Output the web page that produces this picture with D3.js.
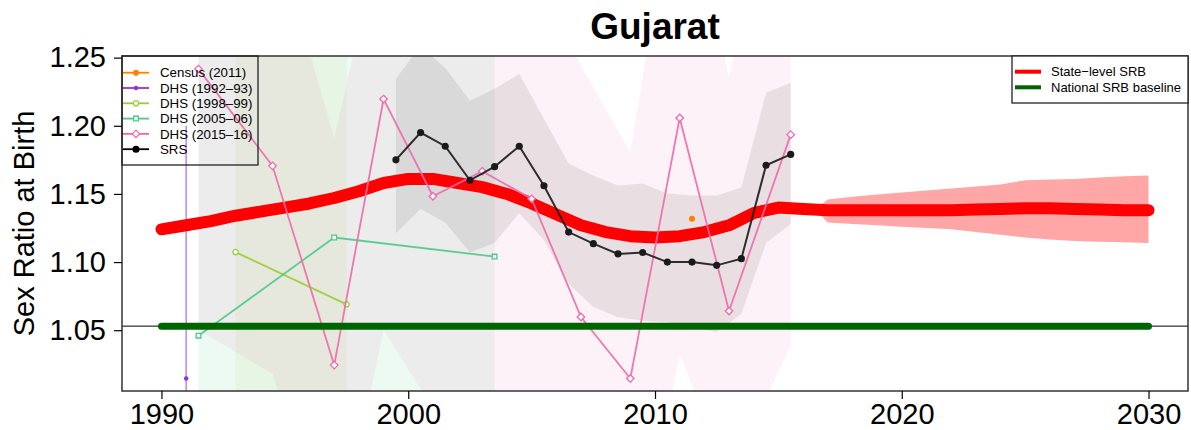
<!DOCTYPE html>
<html>
<head>
<meta charset="utf-8">
<script src="https://cdn.jsdelivr.net/npm/d3@7"></script>
<style>
  html, body { margin: 0; padding: 0; background: #fff; }
  svg { display: block; font-family: "Liberation Sans", Arial, Helvetica, sans-serif; }
</style>
</head>
<body>
<svg id="chart" width="1191" height="430"></svg>
<script>
// ---------------- DATA ----------------
const title = "Gujarat";
const yLabel = "Sex Ratio at Birth";
const xTicks = [1990, 2000, 2010, 2020, 2030];
const yTicks = [1.05, 1.10, 1.15, 1.20, 1.25];
const yTickLabels = ["1.05", "1.10", "1.15", "1.20", "1.25"];

// State-level SRB estimate (annual)
const stateYears = d3.range(1990, 2031);
const stateSRB = [1.124, 1.127, 1.130, 1.134, 1.137, 1.140, 1.143, 1.147, 1.152, 1.158,
  1.161, 1.161, 1.158, 1.155, 1.150, 1.143, 1.135, 1.127, 1.122, 1.119,
  1.118, 1.119, 1.122, 1.127, 1.136, 1.140, 1.139, 1.138, 1.138, 1.138,
  1.138, 1.138, 1.138, 1.1385, 1.139, 1.1395, 1.1395, 1.139, 1.1385, 1.138, 1.138];

// Projection uncertainty
const projYears = [2016.5, 2017, 2018, 2019, 2020, 2021, 2022, 2023, 2024, 2025, 2026, 2027, 2028, 2029, 2030];
const projLower = [1.1385, 1.129, 1.128, 1.127, 1.126, 1.125, 1.124, 1.122, 1.120, 1.118, 1.1165, 1.1155, 1.115, 1.1145, 1.114];
const projUpper = [1.1385, 1.146, 1.148, 1.1495, 1.151, 1.1525, 1.154, 1.1555, 1.157, 1.160, 1.1605, 1.161, 1.162, 1.163, 1.1635];

const nationalBaseline = 1.053;
const baselineYears = [1990, 2030];

// Data series
const censusYears = [2011.5];
const censusValues = [1.1318];

const dhs1992Years = [1991];
const dhs1992Values = [1.0146];
const dhs1992Lower = [0.90];
const dhs1992Upper = [1.2001];

const dhs1998Years = [1993, 1997.5];
const dhs1998Values = [1.1073, 1.069];
const dhs1998Lower = [0.90, 0.90];
const dhs1998Upper = [1.35, 1.35];

const dhs2005Years = [1991.5, 1997, 2003.5];
const dhs2005Values = [1.046, 1.118, 1.104];
const dhs2005Lower = [0.90, 0.90, 0.90];
const dhs2005Upper = [1.35, 1.35, 1.35];

const dhs2015Years = [1991.5, 1994.5, 1997, 1999, 2001, 2003, 2005, 2007, 2009, 2011, 2013, 2015.5];
const dhs2015Values = [1.2416, 1.1706, 1.0244, 1.2196, 1.1483, 1.1666, 1.1464, 1.0597, 1.0146, 1.2057, 1.0641, 1.1935];
const dhs2015Lower = [1.050, 1.018, 0.880, 1.050, 0.993, 0.95, 0.93, 0.90, 0.84, 1.033, 0.94, 1.039];
const dhs2015Upper = [1.35, 1.35, 1.1906, 1.35, 1.35, 1.35, 1.31, 1.244, 1.1806, 1.40, 1.2354, 1.44];

const srsYears = [1999.5, 2000.5, 2001.5, 2002.5, 2003.5, 2004.5, 2005.5, 2006.5, 2007.5, 2008.5,
  2009.5, 2010.5, 2011.5, 2012.5, 2013.5, 2014.5, 2015.5];
const srsValues = [1.175, 1.195, 1.185, 1.160, 1.170, 1.185, 1.156, 1.122, 1.1135, 1.106,
  1.107, 1.100, 1.100, 1.0976, 1.1025, 1.171, 1.179];
const srsLower = [1.121, 1.139, 1.129, 1.107, 1.114, 1.136, 1.116, 1.084, 1.067, 1.0595,
  1.057, 1.056, 1.052, 1.0485, 1.062, 1.114, 1.128];
const srsUpper = [1.2345, 1.2586, 1.2425, 1.2184, 1.2272, 1.2381, 1.2052, 1.1723, 1.1635, 1.1561,
  1.1576, 1.1503, 1.1488, 1.1488, 1.1547, 1.2242, 1.2316];

const seriesNames = ["Census (2011)", "DHS (1992\u201393)", "DHS (1998\u201399)", "DHS (2005\u201306)", "DHS (2015\u201316)", "SRS"];
const seriesColors = ["#FF7F00", "#9A32CD", "#9ACD32", "#4CC98A", "#EE6AA7", "#000000"];
const legend2Names = ["State\u2212level SRB", "National SRB baseline"];
const legend2Colors = ["#FF0000", "#006400"];

// ---------------- CHART ----------------
const svg = d3.select("#chart");
const L = 122, R = 1188, T = 56, B = 391;

const x = d3.scaleLinear().domain([1988.4, 2031.6]).range([L, R]);
const y = d3.scaleLinear().domain([1.0054, 1.2512]).range([B, T]);

svg.append("defs").append("clipPath").attr("id", "clip")
  .append("rect").attr("x", L).attr("y", T).attr("width", R - L).attr("height", B - T);

const plot = svg.append("g").attr("clip-path", "url(#clip)");

function zipBand(xs, lo, hi) { return xs.map((d, i) => ({ x: d, lo: lo[i], hi: hi[i] })); }
const area = d3.area().x(d => x(d.x)).y0(d => y(d.lo)).y1(d => y(d.hi));
const line = d3.line().x(d => x(d.x)).y(d => y(d.v));
function zipLine(xs, vs) { return xs.map((d, i) => ({ x: d, v: vs[i] })); }

// Uncertainty bands of the data series
plot.append("path").datum(zipBand(dhs2005Years, dhs2005Lower, dhs2005Upper))
  .attr("d", area).attr("fill", seriesColors[3]).attr("fill-opacity", 0.1);
plot.append("path").datum(zipBand(dhs1998Years, dhs1998Lower, dhs1998Upper))
  .attr("d", area).attr("fill", seriesColors[2]).attr("fill-opacity", 0.08);
plot.append("path").datum(zipBand(dhs2015Years, dhs2015Lower, dhs2015Upper))
  .attr("d", area).attr("fill", seriesColors[4]).attr("fill-opacity", 0.09);
plot.append("path").datum(zipBand(srsYears, srsLower, srsUpper))
  .attr("d", area).attr("fill", "#000").attr("fill-opacity", 0.08);
// DHS 1992-93 has a single year: a vertical bar
plot.selectAll(".v92").data(dhs1992Years).enter().append("line")
  .attr("x1", d => x(d)).attr("x2", d => x(d))
  .attr("y1", (d, i) => y(dhs1992Lower[i])).attr("y2", (d, i) => y(dhs1992Upper[i]))
  .attr("stroke", seriesColors[1]).attr("stroke-opacity", 0.6).attr("stroke-width", 1.5);

// Projection band and state-level line
plot.append("path").datum(zipBand(projYears, projLower, projUpper))
  .attr("d", area).attr("fill", "#FF0000").attr("fill-opacity", 0.35);
plot.append("path").datum(zipLine(stateYears, stateSRB))
  .attr("d", line).attr("fill", "none").attr("stroke", "#FF0000")
  .attr("stroke-width", 12).attr("stroke-linecap", "round").attr("stroke-linejoin", "round");

// Series lines and markers
function drawSeries(xs, vs, color, shape, filled, size, lw) {
  plot.append("path").datum(zipLine(xs, vs)).attr("d", line)
    .attr("fill", "none").attr("stroke", color).attr("stroke-width", lw).attr("stroke-opacity", 0.9);
  plot.selectAll(null).data(zipLine(xs, vs)).enter().append("path")
    .attr("transform", d => `translate(${x(d.x)},${y(d.v)})`)
    .attr("d", d3.symbol().type(shape).size(size))
    .attr("fill", filled ? color : "#fff")
    .attr("stroke", color).attr("stroke-width", filled ? 0 : 1.3);
}
const diamond = { draw(ctx, size) { const r = Math.sqrt(size) / 2; ctx.moveTo(0, -r); ctx.lineTo(r, 0); ctx.lineTo(0, r); ctx.lineTo(-r, 0); ctx.closePath(); } };

drawSeries(dhs1998Years, dhs1998Values, seriesColors[2], d3.symbolCircle, false, 22, 1.8);
drawSeries(dhs2005Years, dhs2005Values, seriesColors[3], d3.symbolSquare, false, 22, 1.8);
drawSeries(dhs2015Years, dhs2015Values, seriesColors[4], diamond, false, 56, 1.8);
drawSeries(dhs1992Years, dhs1992Values, seriesColors[1], d3.symbolCircle, true, 16, 1.5);
drawSeries(srsYears, srsValues, "#1a1a1a", d3.symbolCircle, true, 40, 2);
drawSeries(censusYears, censusValues, seriesColors[0], d3.symbolCircle, true, 28, 1.5);

// Baseline reference line and national baseline
plot.append("line").attr("x1", L).attr("x2", R)
  .attr("y1", y(nationalBaseline)).attr("y2", y(nationalBaseline))
  .attr("stroke", "#000").attr("stroke-width", 1);
plot.append("path").datum(zipLine(baselineYears, [nationalBaseline, nationalBaseline]))
  .attr("d", line).attr("fill", "none").attr("stroke", "#006400")
  .attr("stroke-width", 7).attr("stroke-linecap", "round");

// Box
svg.append("rect").attr("x", L).attr("y", T).attr("width", R - L).attr("height", B - T)
  .attr("fill", "none").attr("stroke", "#333").attr("stroke-width", 1.5);

// Axes
const xAxis = d3.axisBottom(x).tickValues(xTicks).tickFormat(d3.format("d")).tickSize(8).tickPadding(4);
const gx = svg.append("g").attr("transform", `translate(0,${B})`).call(xAxis);
gx.select(".domain").remove();
gx.selectAll("line").attr("stroke", "#000").attr("stroke-width", 1.2);
gx.selectAll("text").attr("font-size", 29).attr("fill", "#000")
  .attr("font-family", "'Liberation Sans', Arial, sans-serif");

const yAxis = d3.axisLeft(y).tickValues(yTicks).tickFormat((d, i) => yTickLabels[i]).tickSize(8).tickPadding(8);
const gy = svg.append("g").attr("transform", `translate(${L},0)`).call(yAxis);
gy.select(".domain").remove();
gy.selectAll("line").attr("stroke", "#000").attr("stroke-width", 1.2);
gy.selectAll("text").attr("font-size", 29).attr("fill", "#000")
  .attr("font-family", "'Liberation Sans', Arial, sans-serif");

// Title and y label
svg.append("text").attr("x", (L + R) / 2).attr("y", 39).attr("text-anchor", "middle")
  .attr("font-size", 37).attr("font-weight", "bold").text(title);
svg.append("text").attr("transform", `translate(34,${(T + B) / 2}) rotate(-90)`)
  .attr("text-anchor", "middle").attr("font-size", 29).text(yLabel);

// Left legend
const lg = svg.append("g");
lg.append("rect").attr("x", L).attr("y", T).attr("width", 136).attr("height", 109)
  .attr("fill", "none").attr("stroke", "#222").attr("stroke-width", 1.3);
const legShapes = [d3.symbolCircle, d3.symbolCircle, d3.symbolCircle, d3.symbolSquare, diamond, d3.symbolCircle];
const legFilled = [true, true, false, false, false, true];
const legSizes = [28, 16, 22, 22, 56, 40];
seriesNames.forEach((name, i) => {
  const yy = 72.7 + i * 15.3;
  lg.append("line").attr("x1", L + 1).attr("x2", L + 27).attr("y1", yy).attr("y2", yy)
    .attr("stroke", seriesColors[i]).attr("stroke-width", 1.8);
  lg.append("path").attr("transform", `translate(${L + 14},${yy})`)
    .attr("d", d3.symbol().type(legShapes[i]).size(legSizes[i]))
    .attr("fill", legFilled[i] ? seriesColors[i] : "#fff")
    .attr("stroke", seriesColors[i]).attr("stroke-width", legFilled[i] ? 0 : 1.3);
  lg.append("text").attr("x", 160).attr("y", yy).attr("dy", "0.35em")
    .attr("font-size", 13.3).text(name);
});

// Right legend
const rg = svg.append("g");
rg.append("rect").attr("x", 1012).attr("y", T).attr("width", R - 1012).attr("height", 47)
  .attr("fill", "#fff").attr("stroke", "#222").attr("stroke-width", 1.3);
legend2Names.forEach((name, i) => {
  const yy = 71.7 + i * 15.6;
  rg.append("line").attr("x1", 1015).attr("x2", 1041).attr("y1", yy).attr("y2", yy)
    .attr("stroke", legend2Colors[i]).attr("stroke-width", 4);
  rg.append("text").attr("x", 1051).attr("y", yy).attr("dy", "0.35em")
    .attr("font-size", 13).text(name);
});
</script>
</body>
</html>
